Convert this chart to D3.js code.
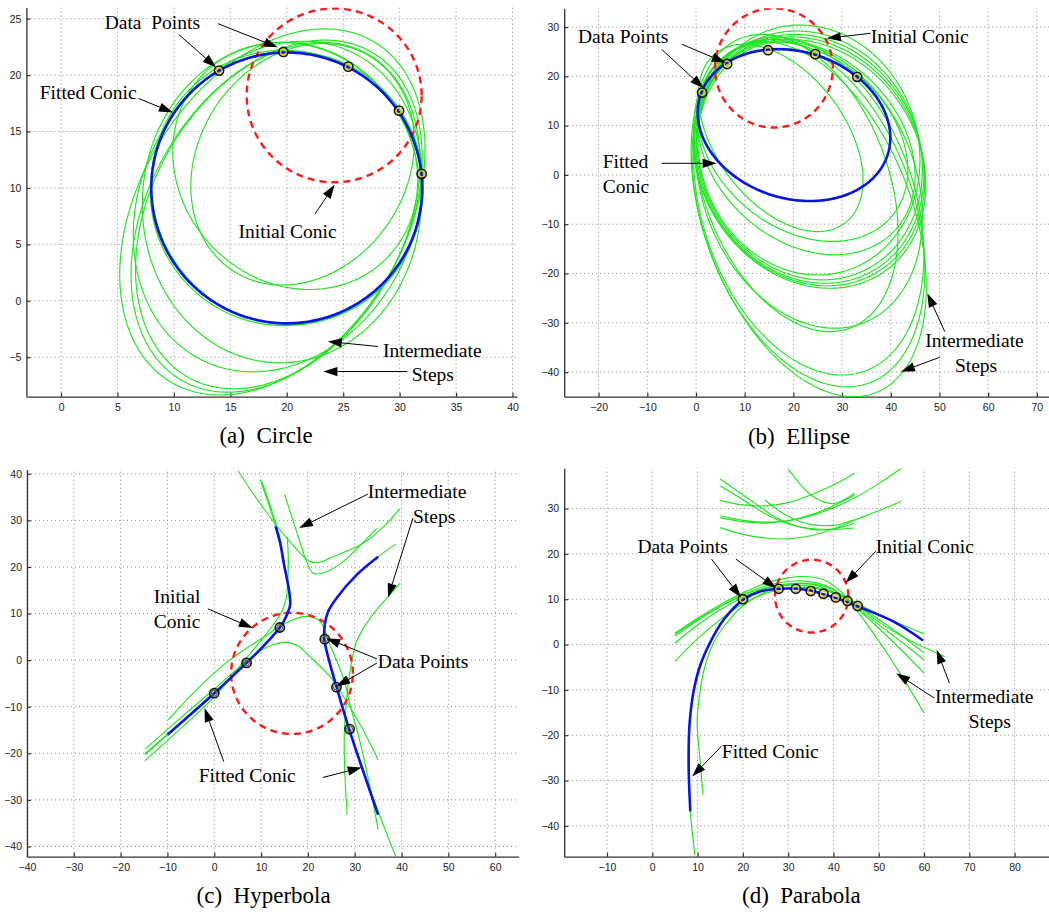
<!DOCTYPE html>
<html><head><meta charset="utf-8">
<script src="https://cdn.jsdelivr.net/npm/d3@7"></script>
<style>
body{margin:0;background:#fff;}
svg text{font-family:"Liberation Sans",Arial,sans-serif;}
</style></head><body>
<svg id="chart" width="1049" height="914"></svg>
<script>
// ================= DATA =================
// ellipses: [xmin, xmax, ymin, ymax, x at lowest point]
// ---- (a) Circle
const circleXTicks=[0,5,10,15,20,25,30,35,40];
const circleYTicks=[-5,0,5,10,15,20,25];
const circlePoints=[[14.0,20.4],[19.7,22.05],[25.45,20.75],[29.95,16.85],[31.95,11.25]];
const circleInitial=[16.45,31.95,10.5,25.9,24.2];
const circleFitted=[8.0,32.0,-2.0,22.0,20.0];
const circleSteps=[
 [5.2,32.25,-8.35,24.1,14.1],
 [6.2,32.0,-8.1,23.1,14.8],
 [6.6,31.8,-7.8,22.9,15.3],
 [6.4,32.0,-6.3,23.0,17.0],
 [7.2,31.9,-5.5,22.9,19.4],
 [9.9,31.6,1.0,22.9,22.0],
 [11.5,31.3,1.4,22.8,19.6],
 [7.9,32.1,-2.2,22.1,19.8],
 [8.0,32.0,-2.1,22.2,20.3]
];
// ---- (b) Ellipse
const ellipseXTicks=[-20,-10,0,10,20,30,40,50,60,70];
const ellipseYTicks=[-40,-30,-20,-10,0,10,20,30];
const ellipsePoints=[[1.25,16.7],[6.4,22.5],[14.8,25.3],[24.5,24.5],[33.1,19.9]];
const ellipseInitial=[3.9,28.1,9.6,33.8,16.0];
const ellipseFitted=[0.35,39.9,-5.3,25.5,23.4];
const ellipseSteps=[
 [-1.0,47.3,-45,27.0,32.4],
 [-0.8,47.0,-43,27.5,31.0],
 [-0.5,46.8,-40.6,28.0,30.0],
 [-0.5,41.5,-31.8,28.5,27.5],
 [0.0,46.5,-31.1,27.0,28.5],
 [-0.5,47.2,-23.0,27.5,27.5],
 [-0.3,47.0,-22.5,28.0,27.0],
 [0.0,46.8,-22.0,28.5,26.5],
 [0.2,46.5,-21.3,29.2,26.0],
 [0.4,46.0,-20.3,30.4,25.0],
 [0.5,34.3,-11.5,26.5,25.0],
 [0.3,43.5,-13.5,27.0,28.0],
 [0.2,45.0,-16.2,27.5,28.5],
 [0.3,40.0,-5.4,25.7,23.4]
];
// ---- (c) Hyperbola
const hyperXTicks=[-40,-30,-20,-10,0,10,20,30,40,50,60];
const hyperYTicks=[-40,-30,-20,-10,0,10,20,30,40];
const hyperPoints=[[0,-7.1],[6.9,-0.6],[14.0,7.0],[23.6,4.5],[26.1,-5.8],[28.9,-14.8]];
const hyperInitial=[3.6,29.6,-15.85,10.15,16.6];
const hyperFittedLeft=[[-10,-16],[-5,-11.6],[0,-7.1],[6.9,-0.6],[10.5,3],[14,7],[15.5,9.7],[16.2,11.9],[16.0,14.7],[15.6,17],[14.9,20.5],[14.1,25],[13.1,28.7]];
const hyperFittedRight=[[35,22.2],[30.4,18.3],[26.1,13.3],[24.3,10.4],[23.6,7.6],[23.5,4.5],[24.5,0],[26.1,-5.7],[28.8,-14.8],[35,-33.2]];
const hyperSteps=[
 [[5.1,40.6],[10.5,32.6],[15.5,26.2],[20.4,21.2],[22.5,21],[24.7,21.9],[31.8,25.1],[36,28.5],[39.7,32.6]],
 [[15,35.6],[17.6,27.6],[19.7,21.2],[21.1,18.7],[23.3,18.7],[27.6,21.2],[31,24.5],[34.7,28.3]],
 [[9.8,38.7],[11.9,32.6],[13.1,28.7],[14.1,25],[14.9,20.5],[15.6,17],[16.0,14.7],[16.2,11.9],[15.5,9.7],[14,7],[10.5,3],[6.9,-0.6],[0,-7.1],[-5,-11.6],[-10,-16],[-14.8,-20.3]],
 [[10.2,38.3],[12.2,32.4],[13.4,28.5],[14.3,25],[15.0,20.5],[15.7,17],[16.1,14.7],[16.3,11.9],[15.6,9.7],[14.1,7.1],[10.6,3.1],[7.0,-0.5],[0,-7.0],[-5,-11.5],[-10,-15.9],[-14.8,-20.1]],
 [[15.6,26.5],[15.8,22],[15.7,17],[15.3,13],[14.4,10.4],[12.6,7.6],[9.8,4],[6.5,0],[0,-7.9],[-7,-14.5],[-14.8,-21.6]],
 [[-9.8,-12.8],[-3,-5.6],[3.4,0.1],[10.5,4.9],[15,7.8],[19.4,9.4],[22.5,8.4],[24.7,3.3],[27.6,-3.9],[29,-9.6],[31,-17],[33,-26],[35,-36.4]],
 [[-14.8,-19.1],[-5,-10.5],[0,-6.2],[5,-1.8],[9,1.5],[12.5,3.3],[15.5,3.8],[18,3],[20.4,0.8],[24.7,-3.5],[27.6,-7.8],[31.8,-15],[35,-21.4]],
 [[38.8,24.9],[35,22.2],[30.4,18.3],[26.1,13.3],[24.3,10.4],[23.6,7.6],[23.5,4.5],[24.5,0],[26.1,-5.7],[28.8,-14.8],[32,-24],[35,-32.5],[38.8,-42.2]],
 [[39.7,16.5],[37.2,13.7],[33.3,9.0],[30.4,4.0],[29,-2.4],[28.3,-8.2],[27.8,-15],[27.8,-22],[28.4,-33.2]]
];
// ---- (d) Parabola
const paraXTicks=[-10,0,10,20,30,40,50,60,70,80];
const paraYTicks=[-40,-30,-20,-10,0,10,20,30];
const paraPoints=[[20.0,10.0],[27.9,12.3],[31.7,12.3],[35.0,11.8],[37.8,11.2],[40.5,10.4],[43.1,9.6],[45.35,8.5]];
const paraInitial=[27.1,43.3,2.65,18.7,35.2];
const paraFitted=[[8.4,-36.8],[8.05,-28],[8.1,-20],[8.3,-16.6],[9.05,-10.7],[10.5,-4.85],[12.7,0.3],[15.7,5.4],[20.1,9.9],[23.8,11.7],[27.8,12.3],[31.9,12.3],[35,11.9],[37.8,11.1],[41,10.1],[45.1,8.5],[53.2,5.1],[59.8,0.9]];
const paraSteps=[
 [[9.4,-46.4],[8.9,-42],[8.4,-36.8],[8.05,-28],[8.1,-20],[8.3,-16.6],[9.05,-10.7],[10.5,-4.85],[12.7,0.3],[15.7,5.4],[20.1,9.9],[23.8,11.7],[27.8,12.3],[31.9,12.3],[35,11.9],[37.8,11.1],[41,10.1],[45.1,8.5],[53.2,5.1],[59.8,0.9]],
 [[11.2,-33.2],[10.5,-25],[9.9,-17],[10.5,-10.7],[11.6,-4.9],[13.5,0.3],[16.4,4.7],[20.1,8.6],[25,11.6],[30,13.2],[35,13.3],[40,11.6],[45,9.2],[50,6.7],[55,4.4],[60,2.35]],
 [[5,2.5],[10,5.8],[15,8.8],[20,11.4],[25,13.5],[30,14.7],[34,15.0],[38,14.2],[42,11.4],[46,6.4],[50,0.8],[55,-6.8],[60,-15.1]],
 [[5,1.8],[10,5.3],[15,8.4],[20,11.0],[25,12.9],[30,13.9],[34,14.0],[38,13.1],[42,10.9],[46,7.3],[50,3.6],[55,-1.2],[60,-6.3]],
 [[5,0.3],[10,4.3],[15,7.7],[20,10.4],[25,12.4],[30,13.4],[34,13.5],[38,12.8],[42,10.9],[46,7.6],[50,4.4],[55,0.6],[60,-3.4]],
 [[5,2.2],[10,5.5],[15,8.4],[20,10.9],[25,12.5],[30,13.1],[34,13.0],[38,12.1],[42,10.4],[46,8.0],[50,5.0],[55,1.9],[60,-0.6],[64.6,-2.65]],
 [[5,-3.75],[10,1.3],[15,5.5],[20,9.0],[25,11.3],[30,12.4],[34,12.6],[38,12.0],[42,10.6],[46,8.2],[50,5.6],[55,2.0],[60,-1.9]],
 [[15,36.5],[19,33.7],[22.7,31.2],[26.3,28.6],[30,26.8],[35,25.4],[40,25.5],[44.7,26.8]],
 [[15,35],[19,32.6],[23,30],[27,27.8],[31,26.3],[35,25.6],[40,25.4],[44.7,25.7]],
 [[15,31.8],[20,30.8],[25,30.6],[30,31.3],[35,33],[40,35.2],[44.7,37.8]],
 [[30,38.7],[33,35],[36,32.3],[40,31.1],[44.7,33.4]],
 [[15,28.4],[20,27.4],[25,27.0],[30,27.3],[35,28.4],[40,30.2],[45,32.5],[50,35.5],[55,38.9]],
 [[15,28.0],[20,27.1],[25,26.8],[30,27.3],[35,28.6],[40,30.6],[44.7,33.0]],
 [[15,25.8],[20,24.3],[25,23.5],[30,23.3],[35,24],[40,25.5],[45,27.6],[50,29.5],[55,31.6]],
 [[24.9,31.9],[28,29.5],[31,27.8],[35,26.5],[40,26.3],[44.7,27.6]]
];

// ================= LAYOUT =================
const panels=[
 {box:{l:26.4,r:517,t:7.4,b:396.7},xd:[-3.07,40.4],yd:[-8.5,26.0],xt:circleXTicks,yt:circleYTicks,
  steps:circleSteps.map(e=>({e})),init:circleInitial,fit:[{e:circleFitted}],pts:circlePoints,inner:"#e6c619",
  cap:"(a)  Circle",capX:266,capY:443,
  labels:[["Data  Points",3.87,24.09],["Fitted Conic",-1.89,17.88],["Initial Conic",15.73,5.56],["Intermediate",28.53,-4.94],["Steps",31.07,-7.15]],
  arrows:[[10.45,23.58,13.75,20.68],[13.9,24.56,19.2,22.46],[6.86,17.93,9.91,16.69],[22.5,7.69,24.24,10.28],[28.08,-4.05,23.64,-3.61],[30.68,-6.27,23.25,-6.27]]},
 {box:{l:564.2,r:1049,t:8.3,b:396.7},xd:[-27.07,72.5],yd:[-45,33.8],xt:ellipseXTicks,yt:ellipseYTicks,
  steps:ellipseSteps.map(e=>({e})),init:ellipseInitial,fit:[{e:ellipseFitted}],pts:ellipsePoints,inner:"#e6c619",
  cap:"(b)  Ellipse",capX:799,capY:444,
  labels:[["Data Points",-24.24,26.7],["Initial Conic",35.87,26.7],["Fitted",-19.17,1.34],["Conic",-19.17,-3.61],["Intermediate",47.08,-34.85],["Steps",53.17,-39.93]],
  arrows:[[-7.06,25.48,1.6,17.57],[-2.89,26.5,6.09,22.76],[35.87,28.73,26.86,27.71],[-7.06,2.35,4.23,2.35],[51.1,-31.81,47.5,-24.02],[50.05,-37.0,42.09,-39.93]]},
 {box:{l:27.0,r:518.6,t:469.6,b:856.7},xd:[-40,65],yd:[-42.2,40.9],xt:hyperXTicks,yt:hyperYTicks,
  steps:hyperSteps.map(p=>({p})),init:hyperInitial,fit:[{p:hyperFittedLeft},{p:hyperFittedRight}],pts:hyperPoints,inner:"#6b6b40",
  cap:"(c)  Hyperbola",capX:263.6,capY:903,
  labels:[["Intermediate",32.79,34.78],["Steps",42.44,29.41],["Initial",-12.92,12.24],["Conic",-12.92,6.87],["Data Points",34.94,-1.72],["Fitted Conic",-3.31,-26.06]],
  arrows:[[32.79,35.64,18.11,28.34],[42.44,30.49,37.1,13.44],[-1.37,11.01,8.22,6.87],[34.73,0.28,23.9,4.72],[34.73,-0.64,26.06,-5.67],[2.03,-21.77,-2.09,-10.3],[23.17,-25.2,31.48,-23.06]]},
 {box:{l:564.2,r:1049,t:468.2,b:856.7},xd:[-19.45,87.6],yd:[-46.8,38.9],xt:paraXTicks,yt:paraYTicks,
  steps:paraSteps.map(p=>({p})),init:paraInitial,fit:[{p:paraFitted}],pts:paraPoints,inner:"#e6c619",
  cap:"(d)  Parabola",capX:801.4,capY:903,
  labels:[["Data Points",-3.29,20.16],["Initial Conic",49.37,20.16],["Intermediate",62.42,-12.93],["Steps",69.86,-18.44],["Fitted Conic",15.35,-24.93]],
  arrows:[[13.09,18.84,19.59,10.37],[18.46,18.84,27.4,12.44],[49.37,20.6,42.68,13.55],[62.27,-11.82,53.85,-6.31],[65.62,-8.52,62.8,-1.17],[15.35,-22.35,8.79,-29.12]]}
];

// ================= DRAW =================
const svg=d3.select("#chart");
svg.append("rect").attr("width",1049).attr("height",914).attr("fill","#fff");

function ellipsePts(e,n=360){
  const [x0,x1,y0,y1,xb]=e;
  const cx=(x0+x1)/2,hw=(x1-x0)/2,cy=(y0+y1)/2,hh=(y1-y0)/2;
  const phi=Math.asin(Math.max(-1,Math.min(1,-(xb-cx)/hw)));
  return d3.range(n+1).map(i=>{const t=2*Math.PI*i/n;return [cx+hw*Math.cos(t),cy+hh*Math.sin(t+phi)];});
}

panels.forEach((P,pi)=>{
  const b=P.box;
  const x=d3.scaleLinear().domain(P.xd).range([b.l,b.r]);
  const y=d3.scaleLinear().domain(P.yd).range([b.b,b.t]);
  const g=svg.append("g");
  const cid="clip"+pi;
  svg.append("clipPath").attr("id",cid).append("rect").attr("x",b.l).attr("y",b.t).attr("width",b.r-b.l).attr("height",b.b-b.t);

  // grid
  const grid=g.append("g").attr("stroke","#8a8a8a").attr("stroke-width",1).attr("stroke-dasharray","1,3");
  P.xt.forEach(v=>grid.append("line").attr("x1",x(v)).attr("x2",x(v)).attr("y1",b.b).attr("y2",b.t));
  P.yt.forEach(v=>grid.append("line").attr("y1",y(v)).attr("y2",y(v)).attr("x1",b.l).attr("x2",b.r));

  // axes
  const fmt=d3.format("d");
  const ax=g.append("g").attr("transform",`translate(0,${b.b})`)
    .call(d3.axisBottom(x).tickValues(P.xt).tickSizeInner(-4).tickSizeOuter(0).tickPadding(7).tickFormat(fmt));
  const ay=g.append("g").attr("transform",`translate(${b.l},0)`)
    .call(d3.axisLeft(y).tickValues(P.yt).tickSizeInner(-4).tickSizeOuter(0).tickPadding(5).tickFormat(fmt));
  [ax,ay].forEach(a=>{
    a.select(".domain").attr("stroke","#333").attr("stroke-width",1.3);
    a.selectAll(".tick line").attr("stroke","#333").attr("stroke-width",1.2);
    a.selectAll(".tick text").attr("fill","#222").style("font-size","10.5px").style("font-family","'Liberation Sans',Arial,sans-serif");
  });

  const plot=g.append("g").attr("clip-path",`url(#${cid})`);
  const line=d3.line().x(d=>x(d[0])).y(d=>y(d[1]));
  const cline=d3.line().x(d=>x(d[0])).y(d=>y(d[1])).curve(d3.curveCatmullRom.alpha(0.5));
  const pathOf=s=>s.e?line(ellipsePts(s.e)):cline(s.p);

  plot.selectAll(".step").data(P.steps).join("path").attr("class","step")
    .attr("d",pathOf).attr("fill","none").attr("stroke","#1fe51f").attr("stroke-width",1.15);
  plot.append("path").attr("d",line(ellipsePts(P.init))).attr("fill","none")
    .attr("stroke","#ff1a1a").attr("stroke-width",2.4).attr("stroke-dasharray","7,5");
  plot.selectAll(".fit").data(P.fit).join("path").attr("class","fit")
    .attr("d",pathOf).attr("fill","none").attr("stroke","#0a14e6").attr("stroke-width",2.6);
  const mk=plot.selectAll(".pt").data(P.pts).join("g").attr("class","pt")
    .attr("transform",d=>`translate(${x(d[0])},${y(d[1])})`);
  mk.append("circle").attr("r",4.6).attr("fill","none").attr("stroke","#111").attr("stroke-width",1.6);
  mk.append("circle").attr("r",2.9).attr("fill","none").attr("stroke",P.inner).attr("stroke-width",1.3);

  // annotations
  const ann=g.append("g");
  P.arrows.forEach(a=>{
    const x1=x(a[0]),y1=y(a[1]),x2=x(a[2]),y2=y(a[3]);
    const dx=x2-x1,dy=y2-y1,L=Math.hypot(dx,dy),ux=dx/L,uy=dy/L;
    const hl=14,hw=4.6;
    const bx=x2-ux*hl,by=y2-uy*hl;
    ann.append("line").attr("x1",x1).attr("y1",y1).attr("x2",bx).attr("y2",by).attr("stroke","#000").attr("stroke-width",1);
    ann.append("path").attr("d",`M${x2},${y2}L${bx-uy*hw},${by+ux*hw}L${bx+uy*hw},${by-ux*hw}Z`).attr("fill","#000");
  });
  P.labels.forEach(l=>{
    ann.append("text").attr("x",x(l[1])).attr("y",y(l[2])).text(l[0])
      .style("font-family","'Liberation Serif','Times New Roman',serif").style("font-size","19.5px")
      .style("white-space","pre").attr("fill","#000");
  });
  svg.append("text").attr("x",P.capX).attr("y",P.capY).attr("text-anchor","middle").text(P.cap)
    .style("font-family","'Liberation Serif','Times New Roman',serif").style("font-size","23px")
    .style("white-space","pre").attr("fill","#000");
});
</script>
</body></html>
